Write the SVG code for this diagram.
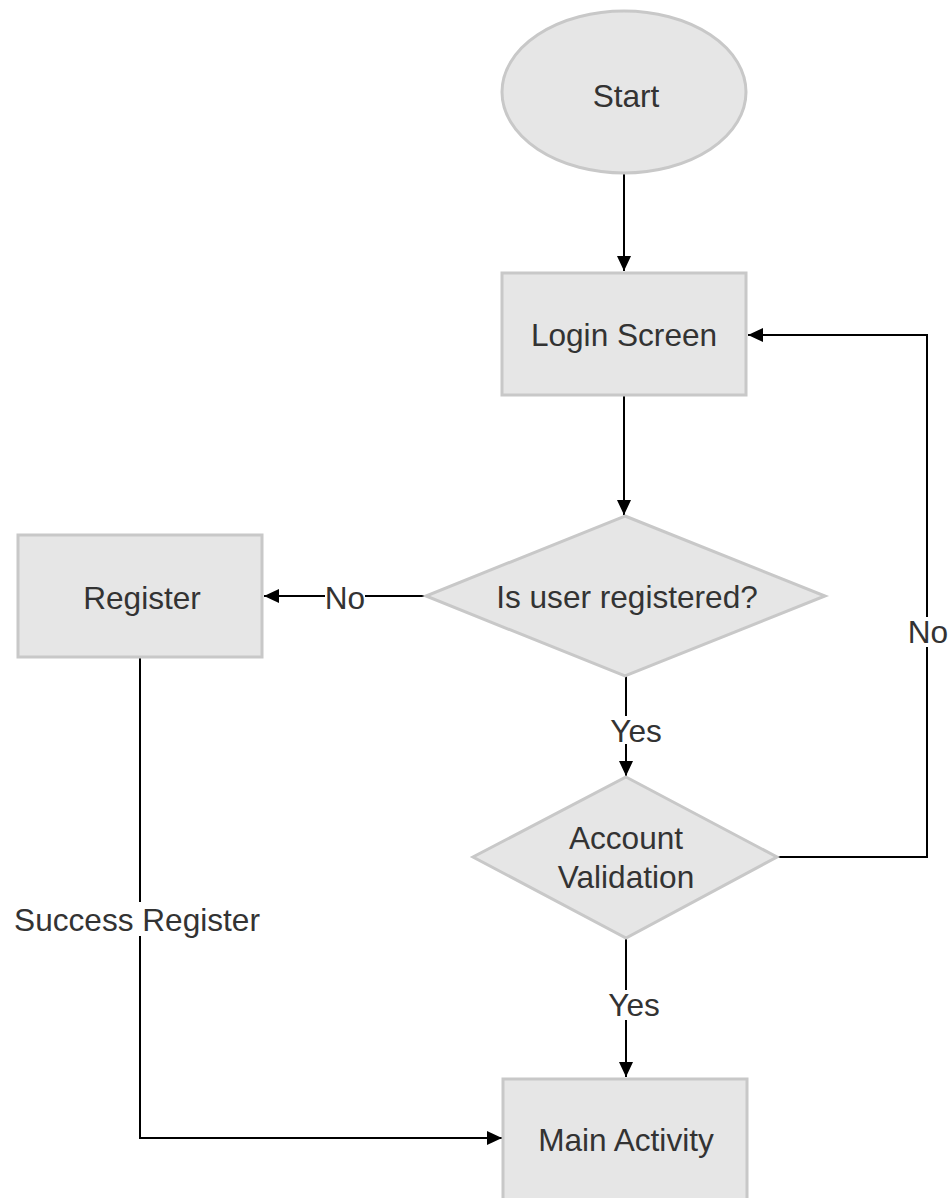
<svg xmlns="http://www.w3.org/2000/svg" width="951" height="1198" viewBox="0 0 951 1198">
  <style>
    .shape { fill: #e6e6e6; stroke: #c8c8c8; stroke-width: 3; }
    .label { font-family: "Liberation Sans", Arial, sans-serif; font-size: 31.6px; fill: #333333; text-anchor: middle; }
    .edge { fill: none; stroke: #000000; stroke-width: 2; }
    .bg { fill: #ffffff; }
  </style>
  <defs>
    <marker id="arrow" markerUnits="userSpaceOnUse" markerWidth="16" markerHeight="16" refX="15" refY="8" orient="auto">
      <path d="M0,1 L15,8 L0,15 Z" fill="#000000"/>
    </marker>
  </defs>

  <!-- connectors -->
  <g id="connectors">
    <path class="edge" d="M624,173 L624,271" marker-end="url(#arrow)"/>
    <path class="edge" d="M624,396 L624,515" marker-end="url(#arrow)"/>
    <path class="edge" d="M426,596 L264,596" marker-end="url(#arrow)"/>
    <path class="edge" d="M626,676 L626,776" marker-end="url(#arrow)"/>
    <path class="edge" d="M777,857 L927,857 L927,335 L748,335" marker-end="url(#arrow)"/>
    <path class="edge" d="M626,938 L626,1077" marker-end="url(#arrow)"/>
    <path class="edge" d="M140,657 L140,1138 L502,1138" marker-end="url(#arrow)"/>

    <!-- edge labels -->
    <rect class="bg" x="325" y="586" width="40" height="24"/>
    <text class="label" x="345" y="609">No</text>
    <rect class="bg" x="610" y="716" width="52" height="28"/>
    <text class="label" x="636" y="742">Yes</text>
    <rect class="bg" x="907" y="617" width="42" height="30"/>
    <text class="label" x="928" y="643">No</text>
    <rect class="bg" x="606" y="990" width="60" height="30"/>
    <text class="label" x="634" y="1016">Yes</text>
    <rect class="bg" x="10" y="902" width="256" height="34"/>
    <text class="label" x="137" y="931">Success Register</text>
  </g>

  <g id="start">
    <ellipse class="shape" cx="624" cy="92" rx="122" ry="81"/>
    <text class="label" x="626" y="107">Start</text>
  </g>

  <g id="login-screen">
    <rect class="shape" x="502" y="273" width="244" height="122"/>
    <text class="label" x="624" y="346">Login Screen</text>
  </g>

  <g id="is-user-registered">
    <polygon class="shape" points="625,516 825,596 625,676 426,596"/>
    <text class="label" x="627" y="608">Is user registered?</text>
  </g>

  <g id="register">
    <rect class="shape" x="18" y="535" width="244" height="122"/>
    <text class="label" x="142" y="609">Register</text>
  </g>

  <g id="account-validation">
    <polygon class="shape" points="626,777 777,857 626,938 473,857"/>
    <text class="label" x="626" y="849">Account</text>
    <text class="label" x="626" y="888">Validation</text>
  </g>

  <g id="main-activity">
    <rect class="shape" x="503" y="1079" width="244" height="122"/>
    <text class="label" x="626" y="1151">Main Activity</text>
  </g>
</svg>
